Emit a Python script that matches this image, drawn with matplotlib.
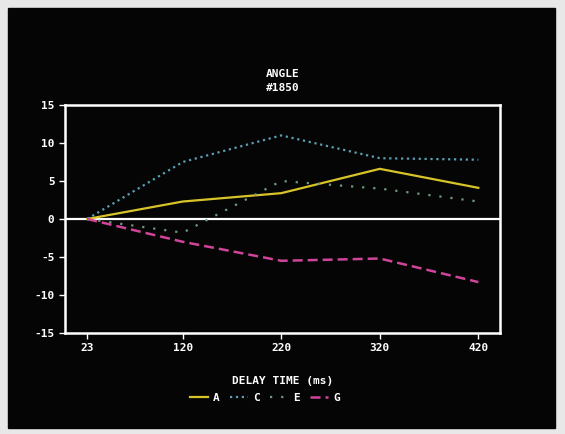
import matplotlib as mpl
mpl.use('Agg')
import matplotlib.pyplot as plt
from matplotlib.patches import Rectangle

delay = [23, 120, 220, 320, 420]
a_vals = [0, 2.3, 3.4, 6.6, 4.1]
c_vals = [0, 7.5, 11.0, 8.0, 7.8]
e_vals = [0, -1.8, 5.0, 4.0, 2.3]
g_vals = [0, -3.0, -5.5, -5.2, -8.3]
yticks = [-15, -10, -5, 0, 5, 10, 15]

plt.rcParams['font.family'] = ['DejaVu Sans Mono']
plt.rcParams['axes.unicode_minus'] = False
plt.rcParams['font.weight'] = 'bold'
plt.rcParams['axes.titleweight'] = 'bold'
plt.rcParams['axes.labelweight'] = 'bold'

fig = plt.figure(figsize=[5.65, 4.34], dpi=100, facecolor='#e8e8e8')
fig.patches.append(Rectangle((8/565, 1-428/434), (555-8)/565, (428-8)/434,
                             transform=fig.transFigure, color='#050505', zorder=-10))
ax = fig.add_axes([65/565, 1-333/434, 435/565, 228/434])
ax.set_zorder(1)
ax.set_facecolor('#050505')

ax.axhline(0, color='white', lw=1.6, zorder=1)
ax.plot(delay, a_vals, '-', c='#d8c428', lw=1.6, label='A', zorder=3)
ax.plot(delay, c_vals, ':', c='#5a9fb5', lw=1.6, label='C', zorder=3)
ax.plot(delay, e_vals, linestyle=(0, (1, 4)), c='#6e9a7e', lw=1.6, label='E', zorder=3)
ax.plot(delay, g_vals, '--', c='#d0449a', lw=1.8, label='G', zorder=3, dashes=(4, 2))

ax.set_xlim(0.5, 442)
ax.set_ylim(-15, 15)
ax.set_xticks(delay)
ax.set_yticks(yticks)
for s in ax.spines.values():
    s.set_color('white')
    s.set_linewidth(1.8)
ax.tick_params(colors='white', labelsize=8, length=4, width=1)

ax.set_title('ANGLE\n#1850', color='white', fontsize=8, pad=10, linespacing=1.5)
ax.set_xlabel('DELAY TIME (ms)', color='white', fontsize=8, labelpad=16)
leg = ax.legend(loc='upper center', bbox_to_anchor=(0.46, -0.22), ncol=4, frameon=False,
                fontsize=8, handlelength=1.6, columnspacing=0.9, handletextpad=0.5)
for t in leg.get_texts():
    t.set_color('white')

plt.savefig('out.png', dpi=100)
plt.close(fig)
